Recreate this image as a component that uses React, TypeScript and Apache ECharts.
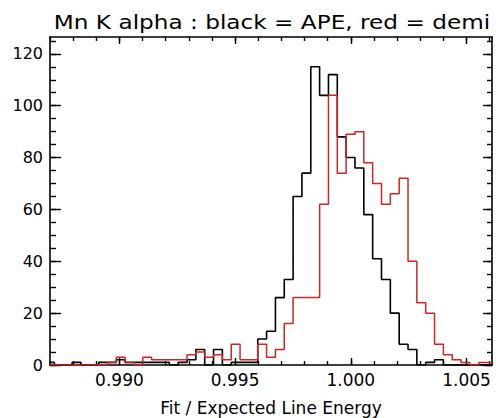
import React, { useEffect, useRef } from "react";
import * as echarts from "echarts";

const TITLE = "Mn K alpha : black = APE, red = demi";
const X_NAME = "Fit / Expected Line Energy";

// Histogram bins (centers start at BIN_START, spaced BIN_WIDTH)
const BIN_START = 0.987;
const BIN_WIDTH = 0.000382;

// black = APE
const apeCounts = [
  1, 0, 0, 1, 0, 0, 1, 1, 2, 1,
  1, 1, 1, 1, 0, 1, 2, 6, 0, 6,
  0, 1, 1, 1, 10, 13, 26, 33, 65, 74,
  115, 104, 112, 88, 80, 76, 58, 41, 33, 20,
  8, 6, 0, 1, 2, 0, 0, 0, 0, 0,
  0,
];

// red = demi
const demiCounts = [
  0, 0, 0, 0, 0, 0, 0, 1, 3, 1,
  0, 3, 2, 2, 2, 2, 4, 5, 3, 4,
  2, 8, 2, 2, 8, 3, 6, 16, 26, 26,
  26, 62, 104, 74, 89, 90, 78, 70, 62, 66,
  72, 40, 24, 20, 8, 4, 2, 1, 0, 1,
  1,
];

const X_MIN = 0.987;
const X_MAX = 1.0061;
const Y_MIN = 0;
const Y_MAX = 126.5;

const xMajorTicks = [0.99, 0.995, 1.0, 1.005];
const xMinorTicks = [
  0.987, 0.988, 0.989, 0.99, 0.991, 0.992, 0.993, 0.994, 0.995, 0.996,
  0.997, 0.998, 0.999, 1.0, 1.001, 1.002, 1.003, 1.004, 1.005, 1.006,
];
const yMajorTicks = [0, 20, 40, 60, 80, 100, 120];
const yMinorTicks = [
  0, 5, 10, 15, 20, 25, 30, 35, 40, 45, 50, 55, 60, 65, 70, 75, 80, 85, 90,
  95, 100, 105, 110, 115, 120, 125,
];

const FONT = "DejaVu Sans";
const INK = "#000000";
const RED = "#c82828";

function xAxisDef(position: string, ticks: number[], len: number, line: boolean, labels: boolean, name?: string) {
  return {
    type: "value",
    position,
    min: X_MIN,
    max: X_MAX,
    name: name || "",
    nameLocation: "middle",
    nameGap: 34,
    nameTextStyle: { fontFamily: FONT, fontSize: 17, color: INK },
    axisLine: { show: line, onZero: false, lineStyle: { color: INK, width: 1.6 } },
    axisTick: {
      show: true,
      inside: true,
      length: len,
      customValues: ticks,
      lineStyle: { color: INK, width: 1.4 },
    },
    axisLabel: labels
      ? {
          show: true,
          customValues: xMajorTicks,
          formatter: (v: number) => v.toFixed(3),
          fontFamily: FONT,
          fontSize: 17,
          color: INK,
          margin: 6,
        }
      : { show: false },
    splitLine: { show: false },
  };
}

function yAxisDef(position: string, ticks: number[], len: number, line: boolean, labels: boolean) {
  return {
    type: "value",
    position,
    min: Y_MIN,
    max: Y_MAX,
    axisLine: { show: line, onZero: false, lineStyle: { color: INK, width: 1.6 } },
    axisTick: {
      show: true,
      inside: true,
      length: len,
      customValues: ticks,
      lineStyle: { color: INK, width: 1.4 },
    },
    axisLabel: labels
      ? {
          show: true,
          customValues: yMajorTicks,
          formatter: (v: number) => String(v),
          fontFamily: FONT,
          fontSize: 16,
          color: INK,
          margin: 7,
        }
      : { show: false },
    splitLine: { show: false },
  };
}

export default function App() {
  const ref = useRef<HTMLDivElement>(null);

  useEffect(() => {
    if (!ref.current) return;
    const chart = echarts.init(ref.current, undefined, { renderer: "svg" });
    const toPairs = (arr: number[]) => arr.map((c, i) => [BIN_START + i * BIN_WIDTH, c]);

    chart.setOption({
      animation: false,
      backgroundColor: "#ffffff",
      grid: { left: 50, right: 4, top: 37, bottom: 53, containLabel: false, outerBoundsMode: "none" },
      graphic: [
        {
          type: "text",
          x: 272,
          y: 22,
          scaleX: 1.22,
          style: {
            text: TITLE,
            fontFamily: FONT,
            fontSize: 19,
            fill: INK,
            align: "center",
            verticalAlign: "middle",
          },
        },
      ],
      xAxis: [
        xAxisDef("bottom", xMajorTicks, 7, true, true, X_NAME),
        xAxisDef("bottom", xMinorTicks, 4, false, false),
        xAxisDef("top", xMajorTicks, 7, true, false),
        xAxisDef("top", xMinorTicks, 4, false, false),
      ],
      yAxis: [
        yAxisDef("left", yMajorTicks, 11, true, true),
        yAxisDef("left", yMinorTicks, 6, false, false),
        yAxisDef("right", yMajorTicks, 9, true, false),
        yAxisDef("right", yMinorTicks, 5, false, false),
      ],
      series: [
        {
          name: "APE",
          type: "line",
          step: "middle",
          xAxisIndex: 0,
          yAxisIndex: 0,
          data: toPairs(apeCounts),
          showSymbol: false,
          lineStyle: { color: INK, width: 1.6 },
          itemStyle: { color: INK },
        },
        {
          name: "demi",
          type: "line",
          step: "middle",
          xAxisIndex: 0,
          yAxisIndex: 0,
          data: toPairs(demiCounts),
          showSymbol: false,
          lineStyle: { color: RED, width: 1.5 },
          itemStyle: { color: RED },
        },
      ],
    });
    return () => chart.dispose();
  }, []);

  return (
    <div
      ref={ref}
      style={{ position: "absolute", left: 0, top: 0, width: 496, height: 418, background: "#fff" }}
    />
  );
}
